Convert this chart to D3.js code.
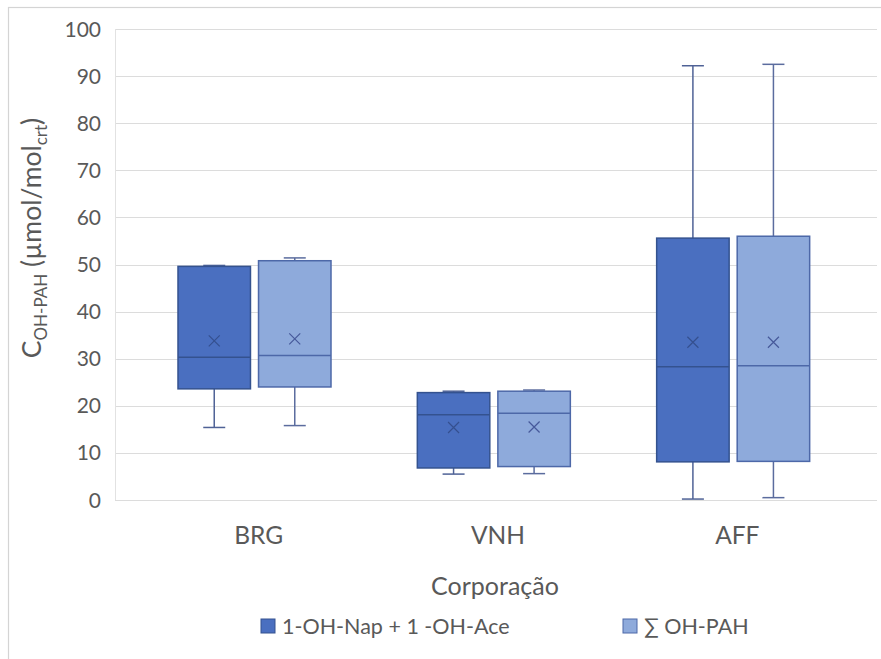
<!DOCTYPE html>
<html>
<head>
<meta charset="utf-8">
<script src="https://cdn.jsdelivr.net/npm/d3@7"></script>
<style>
  html, body { margin: 0; padding: 0; background: #ffffff; }
  svg { display: block; }
  text { font-family: Lato, "Open Sans", sans-serif; fill: #595959; }
</style>
</head>
<body>
<svg id="chart" width="881" height="659"></svg>
<script>
// Categories and series
const categories = ["BRG", "VNH", "AFF"];
const seriesNames = ["1-OH-Nap + 1 -OH-Ace", "\u2211 OH-PAH"];

// Five-number summaries and means, one value per category (BRG, VNH, AFF)
const napAceMin    = [15.4, 5.5, 0.2];
const napAceQ1     = [23.6, 6.8, 8.1];
const napAceMedian = [30.3, 18.1, 28.3];
const napAceQ3     = [49.6, 22.8, 55.6];
const napAceMax    = [49.8, 23.1, 92.2];
const napAceMean   = [33.8, 15.4, 33.5];

const sumMin    = [15.8, 5.6, 0.5];
const sumQ1     = [24.0, 7.1, 8.2];
const sumMedian = [30.7, 18.4, 28.5];
const sumQ3     = [50.8, 23.1, 56.0];
const sumMax    = [51.4, 23.35, 92.5];
const sumMean   = [34.2, 15.5, 33.5];

const yTicks = [0, 10, 20, 30, 40, 50, 60, 70, 80, 90, 100];

const seriesStats = [
  { min: napAceMin, q1: napAceQ1, med: napAceMedian, q3: napAceQ3, max: napAceMax, mean: napAceMean },
  { min: sumMin, q1: sumQ1, med: sumMedian, q3: sumQ3, max: sumMax, mean: sumMean }
];

const styles = [
  { fill: "#4a6fc0", stroke: "#34528f", whisker: "#4f6296", mark: "#35508f" },
  { fill: "#8eaadb", stroke: "#4d68a8", whisker: "#5b6c9e", mark: "#46599a" }
];

const svg = d3.select("#chart");

// outer frame
svg.append("rect")
  .attr("x", 8.5).attr("y", 7.5)
  .attr("width", 900).attr("height", 700)
  .attr("fill", "none").attr("stroke", "#d4d4d4").attr("stroke-width", 1.2);

const plotLeft = 115, plotRight = 877;
const y = d3.scaleLinear().domain([0, 100]).range([500, 29]);
const x0 = d3.scaleBand().domain(categories).range([135, 853]);
const x1 = d3.scaleBand().domain(seriesNames).range([43, 196]).paddingInner(0.1);

// gridlines
svg.append("g").selectAll("line").data(yTicks).join("line")
  .attr("x1", plotLeft).attr("x2", plotRight)
  .attr("y1", d => Math.round(y(d)) + 0.5).attr("y2", d => Math.round(y(d)) + 0.5)
  .attr("stroke", "#dcdcdc").attr("stroke-width", 1);

// left axis line
svg.append("line")
  .attr("x1", plotLeft + 0.5).attr("x2", plotLeft + 0.5)
  .attr("y1", y(100)).attr("y2", y(0))
  .attr("stroke", "#e2e2e2");

// y tick labels
svg.append("g").selectAll("text").data(yTicks).join("text")
  .attr("x", 101).attr("y", d => y(d))
  .attr("dy", "0.36em")
  .attr("text-anchor", "end")
  .attr("font-size", 21)
  .text(d => d);

// x category labels
svg.append("g").selectAll("text").data(categories).join("text")
  .attr("x", d => x0(d) + x0.bandwidth() / 2 + 4)
  .attr("y", 544)
  .attr("text-anchor", "middle")
  .attr("font-size", 24.5)
  .text(d => d);

// x axis title
svg.append("text")
  .attr("x", 495).attr("y", 595)
  .attr("text-anchor", "middle")
  .attr("font-size", 25)
  .text("Corporação");

// y axis title with subscripts
const yTitle = svg.append("text")
  .attr("transform", "translate(41,238) rotate(-90)")
  .attr("text-anchor", "middle")
  .attr("font-size", 26.5);
yTitle.append("tspan").text("C");
yTitle.append("tspan").attr("font-size", 17).attr("dy", 6).text("OH-PAH");
yTitle.append("tspan").attr("dy", -6).text(" (\u00b5mol/mol");
yTitle.append("tspan").attr("font-size", 17).attr("dy", 6).text("crt");
yTitle.append("tspan").attr("dy", -6).text(")");

// boxes
seriesNames.forEach((name, si) => {
  const s = seriesStats[si];
  const st = styles[si];
  const g = svg.append("g");
  categories.forEach((cat, ci) => {
    const left = x0(cat) + x1(name);
    const w = x1.bandwidth();
    const cx = left + w / 2;
    const capHalf = 11;
    // whiskers
    g.append("line")
      .attr("x1", cx).attr("x2", cx)
      .attr("y1", y(s.max[ci])).attr("y2", y(s.q3[ci]))
      .attr("stroke", st.whisker).attr("stroke-width", 1.5);
    g.append("line")
      .attr("x1", cx).attr("x2", cx)
      .attr("y1", y(s.q1[ci])).attr("y2", y(s.min[ci]))
      .attr("stroke", st.whisker).attr("stroke-width", 1.5);
    [s.max[ci], s.min[ci]].forEach(v => {
      g.append("line")
        .attr("x1", cx - capHalf).attr("x2", cx + capHalf)
        .attr("y1", y(v)).attr("y2", y(v))
        .attr("stroke", st.whisker).attr("stroke-width", 1.5);
    });
    // box
    g.append("rect")
      .attr("x", left).attr("y", y(s.q3[ci]))
      .attr("width", w).attr("height", y(s.q1[ci]) - y(s.q3[ci]))
      .attr("fill", st.fill).attr("stroke", st.stroke).attr("stroke-width", 1.5);
    // median
    g.append("line")
      .attr("x1", left).attr("x2", left + w)
      .attr("y1", y(s.med[ci])).attr("y2", y(s.med[ci]))
      .attr("stroke", st.stroke).attr("stroke-width", 1.5);
    // mean marker
    const my = y(s.mean[ci]), r = 5.5;
    g.append("path")
      .attr("d", `M${cx - r},${my - r}L${cx + r},${my + r}M${cx - r},${my + r}L${cx + r},${my - r}`)
      .attr("stroke", st.mark).attr("stroke-width", 1.2).attr("fill", "none");
  });
});

// legend
const legendX = [261, 623];
const legend = svg.append("g");
seriesNames.forEach((name, i) => {
  legend.append("rect")
    .attr("x", legendX[i]).attr("y", 619)
    .attr("width", 14).attr("height", 14)
    .attr("fill", styles[i].fill).attr("stroke", styles[i].stroke).attr("stroke-width", 1);
  legend.append("text")
    .attr("x", legendX[i] + 21).attr("y", 634)
    .attr("font-size", 21.5)
    .text(name);
});
</script>
</body>
</html>
